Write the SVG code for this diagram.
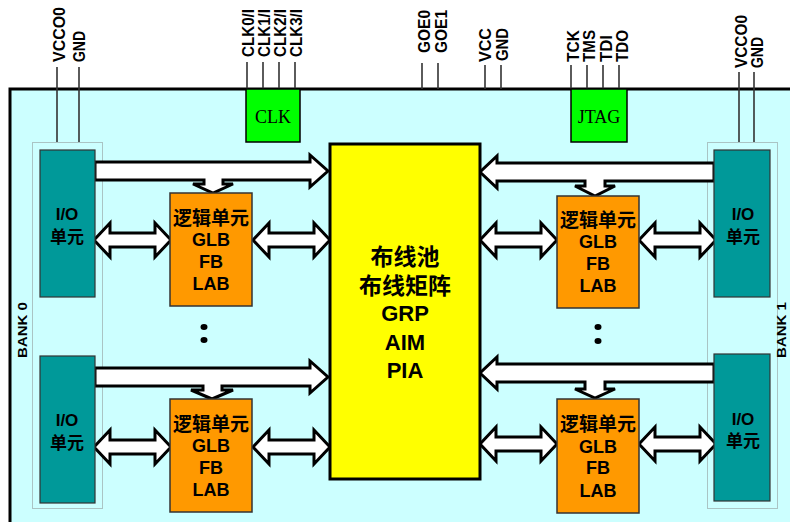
<svg xmlns="http://www.w3.org/2000/svg" xmlns:xlink="http://www.w3.org/1999/xlink" width="790" height="522" viewBox="0 0 790 522">
<style>
.pin{stroke:#333;stroke-width:1.6;fill:none}
.lbl{font-family:"Liberation Sans","Noto Sans CJK SC",sans-serif;font-weight:bold;font-size:16px;fill:#000}
.bank{font-family:"Liberation Sans",sans-serif;font-weight:bold;font-size:13px;fill:#000}
.serif{font-family:"Liberation Serif",serif;font-size:18px;fill:#000;text-anchor:middle}
.io{fill:#009999;stroke:#333;stroke-width:1.2}
.logic{fill:#FF9900;stroke:#333;stroke-width:1.5}
.t{font-family:"Liberation Sans","Noto Sans CJK SC",sans-serif;font-weight:bold;fill:#000;text-anchor:middle}
.arr{fill:#fff;stroke:#000;stroke-width:3;stroke-linejoin:miter}
.bankbox{fill:none;stroke:#888;stroke-width:1;stroke-dasharray:1,1}
.dot{fill:#000}
</style>
<defs>
<path id="dbl" d="M0,0 L16,-17 L16,-7 L61,-7 L61,-17 L77,0 L61,17 L61,7 L16,7 L16,17 Z"/>
</defs>
<rect x="0" y="0" width="790" height="522" fill="#fff"/>
<rect id="chip" x="10" y="89" width="800" height="450" fill="#CCFFFF" stroke="#000" stroke-width="3"/>

<g id="pins">
<line class="pin" x1="57" y1="67" x2="57" y2="142"/>
<line class="pin" x1="79" y1="67" x2="79" y2="142"/>
<line class="pin" x1="247" y1="62" x2="247" y2="89"/>
<line class="pin" x1="263" y1="62" x2="263" y2="89"/>
<line class="pin" x1="279" y1="62" x2="279" y2="89"/>
<line class="pin" x1="295" y1="62" x2="295" y2="89"/>
<line class="pin" x1="422" y1="63" x2="422" y2="89"/>
<line class="pin" x1="438" y1="63" x2="438" y2="89"/>
<line class="pin" x1="485" y1="65" x2="485" y2="89"/>
<line class="pin" x1="501" y1="65" x2="501" y2="89"/>
<line class="pin" x1="571" y1="65" x2="571" y2="89"/>
<line class="pin" x1="587" y1="65" x2="587" y2="89"/>
<line class="pin" x1="603" y1="65" x2="603" y2="89"/>
<line class="pin" x1="619" y1="65" x2="619" y2="89"/>
<line class="pin" x1="739" y1="72" x2="739" y2="142"/>
<line class="pin" x1="754" y1="72" x2="754" y2="142"/>
<text class="lbl" transform="translate(65,62) rotate(-90)" textLength="55" lengthAdjust="spacingAndGlyphs">VCCO0</text>
<text class="lbl" transform="translate(85,62) rotate(-90)" textLength="31" lengthAdjust="spacingAndGlyphs">GND</text>
<text class="lbl" transform="translate(254,57) rotate(-90)" textLength="48" lengthAdjust="spacingAndGlyphs">CLK0/I</text>
<text class="lbl" transform="translate(270,57) rotate(-90)" textLength="48" lengthAdjust="spacingAndGlyphs">CLK1/I</text>
<text class="lbl" transform="translate(286,57) rotate(-90)" textLength="48" lengthAdjust="spacingAndGlyphs">CLK2/I</text>
<text class="lbl" transform="translate(302,57) rotate(-90)" textLength="48" lengthAdjust="spacingAndGlyphs">CLK3/I</text>
<text class="lbl" transform="translate(430,53) rotate(-90)" textLength="43" lengthAdjust="spacingAndGlyphs">GOE0</text>
<text class="lbl" transform="translate(447,53) rotate(-90)" textLength="43" lengthAdjust="spacingAndGlyphs">GOE1</text>
<text class="lbl" transform="translate(491,62) rotate(-90)" textLength="34" lengthAdjust="spacingAndGlyphs">VCC</text>
<text class="lbl" transform="translate(508,61) rotate(-90)" textLength="33" lengthAdjust="spacingAndGlyphs">GND</text>
<text class="lbl" transform="translate(579,62) rotate(-90)" textLength="32" lengthAdjust="spacingAndGlyphs">TCK</text>
<text class="lbl" transform="translate(595,62) rotate(-90)" textLength="32" lengthAdjust="spacingAndGlyphs">TMS</text>
<text class="lbl" transform="translate(612,62) rotate(-90)" textLength="27" lengthAdjust="spacingAndGlyphs">TDI</text>
<text class="lbl" transform="translate(628,62) rotate(-90)" textLength="32" lengthAdjust="spacingAndGlyphs">TDO</text>
<text class="lbl" transform="translate(747,68) rotate(-90)" textLength="53" lengthAdjust="spacingAndGlyphs">VCCO0</text>
<text class="lbl" transform="translate(763,68) rotate(-90)" textLength="31" lengthAdjust="spacingAndGlyphs">GND</text>
</g>

<g id="bank0">
<rect class="bankbox" x="32.5" y="142.5" width="70" height="366"/>
<text class="bank" transform="translate(27,358) rotate(-90)" textLength="56" lengthAdjust="spacingAndGlyphs">BANK 0</text>
</g>
<g id="bank1">
<rect class="bankbox" x="707.5" y="142.5" width="70" height="366"/>
<text class="bank" transform="translate(786,358) rotate(-90)" textLength="56" lengthAdjust="spacingAndGlyphs">BANK 1</text>
</g>

<g id="connectors">
<polygon class="arr" points="95,162 310,162 310,155 328,171 310,187 310,180 223,180 223,184 233,184 213,193 193,184 204,184 204,180 95,180"/>
<polygon class="arr" points="95,368 310,368 310,361 328,377 310,393 310,386 222,386 222,390 233,390 212,399 191,390 203,390 203,386 95,386"/>
<polygon class="arr" points="714,163 497,163 497,156 480,172 497,188 497,181 585,181 585,186 575,186 595,196 615,186 605,186 605,181 714,181"/>
<polygon class="arr" points="714,364 497,364 497,357 480,373 497,389 497,382 585,382 585,389 575,389 595,398 615,389 605,389 605,382 714,382"/>
<use xlink:href="#dbl" class="arr" x="94" y="240"/>
<use xlink:href="#dbl" class="arr" x="253" y="240"/>
<use xlink:href="#dbl" class="arr" x="480" y="240"/>
<use xlink:href="#dbl" class="arr" x="639" y="240"/>
<use xlink:href="#dbl" class="arr" x="94" y="447"/>
<use xlink:href="#dbl" class="arr" x="253" y="447"/>
<use xlink:href="#dbl" class="arr" x="480" y="444"/>
<use xlink:href="#dbl" class="arr" x="639" y="444"/>
</g>

<g id="clk">
<rect x="246" y="89" width="54" height="53" fill="#00FF00" stroke="#000" stroke-width="1.5"/>
<text class="serif" x="273" y="123">CLK</text>
</g>
<g id="jtag">
<rect x="571" y="89" width="56" height="53" fill="#00FF00" stroke="#000" stroke-width="1.5"/>
<text class="serif" x="599" y="123">JTAG</text>
</g>

<g id="io-left-top">
<rect class="io" x="40" y="150" width="55" height="147"/>
<text class="t" font-size="17" x="67" y="220">I/O</text>
<text class="t" font-size="17" x="67" y="243">单元</text>
</g>
<g id="io-left-bottom">
<rect class="io" x="40" y="356" width="55" height="147"/>
<text class="t" font-size="17" x="67" y="426">I/O</text>
<text class="t" font-size="17" x="67" y="449">单元</text>
</g>
<g id="io-right-top">
<rect class="io" x="714" y="150" width="56" height="147"/>
<text class="t" font-size="17" x="743" y="220">I/O</text>
<text class="t" font-size="17" x="743" y="243">单元</text>
</g>
<g id="io-right-bottom">
<rect class="io" x="714" y="354" width="56" height="147"/>
<text class="t" font-size="17" x="743" y="425">I/O</text>
<text class="t" font-size="17" x="743" y="447">单元</text>
</g>

<g id="logic-left-top">
<rect class="logic" x="170" y="193" width="82" height="113"/>
<text class="t" font-size="19" x="211" y="225">逻辑单元</text>
<text class="t" font-size="18" x="211" y="246">GLB</text>
<text class="t" font-size="18" x="211" y="268">FB</text>
<text class="t" font-size="18" x="211" y="290">LAB</text>
</g>
<g id="logic-left-bottom">
<rect class="logic" x="170" y="399" width="82" height="113"/>
<text class="t" font-size="19" x="211" y="431">逻辑单元</text>
<text class="t" font-size="18" x="211" y="452">GLB</text>
<text class="t" font-size="18" x="211" y="474">FB</text>
<text class="t" font-size="18" x="211" y="496">LAB</text>
</g>
<g id="logic-right-top">
<rect class="logic" x="557" y="196" width="82" height="112"/>
<text class="t" font-size="19" x="598" y="227">逻辑单元</text>
<text class="t" font-size="18" x="598" y="248">GLB</text>
<text class="t" font-size="18" x="598" y="270">FB</text>
<text class="t" font-size="18" x="598" y="292">LAB</text>
</g>
<g id="logic-right-bottom">
<rect class="logic" x="557" y="399" width="82" height="114"/>
<text class="t" font-size="19" x="598" y="431">逻辑单元</text>
<text class="t" font-size="18" x="598" y="453">GLB</text>
<text class="t" font-size="18" x="598" y="474">FB</text>
<text class="t" font-size="18" x="598" y="497">LAB</text>
</g>

<g id="routing">
<rect x="330" y="144" width="150" height="335" fill="#FFFF00" stroke="#000" stroke-width="3"/>
<text class="t" font-size="23" x="405" y="265">布线池</text>
<text class="t" font-size="23" x="405" y="294">布线矩阵</text>
<text class="t" font-size="22" x="405" y="321">GRP</text>
<text class="t" font-size="22" x="405" y="350">AIM</text>
<text class="t" font-size="22" x="405" y="378">PIA</text>
</g>

<g id="ellipsis">
<ellipse class="dot" cx="204" cy="327" rx="3.5" ry="3"/>
<ellipse class="dot" cx="204" cy="340" rx="3.5" ry="3"/>
<ellipse class="dot" cx="598" cy="327" rx="3.5" ry="3"/>
<ellipse class="dot" cx="598" cy="341" rx="3.5" ry="3"/>
</g>
</svg>
